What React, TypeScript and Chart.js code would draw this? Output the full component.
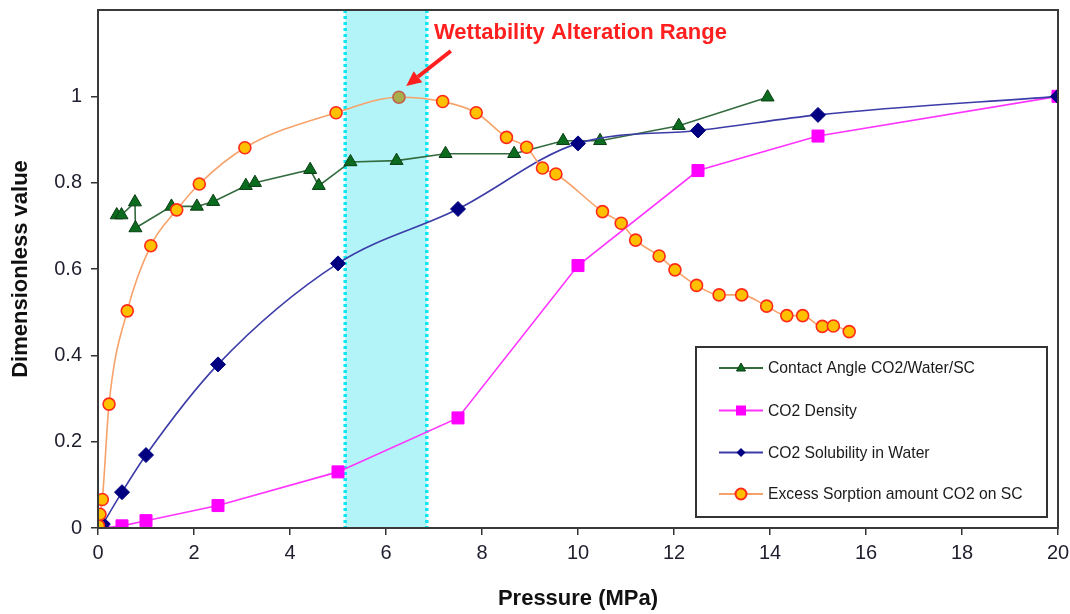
import React, { useEffect, useRef } from 'react';
import { Chart, registerables } from 'chart.js';

Chart.register(...registerables);

// ---------- data ----------
const contactAngleX = [0.39, 0.49, 0.77, 0.78, 1.53, 2.06, 2.4, 3.08, 3.27, 4.42, 4.6, 5.26, 6.22, 7.24, 8.67, 9.69, 10.46, 12.1, 13.95];
const contactAngleY = [0.725, 0.725, 0.755, 0.695, 0.745, 0.745, 0.756, 0.793, 0.8, 0.83, 0.793, 0.848, 0.851, 0.867, 0.867, 0.897, 0.897, 0.932, 0.998];

const densityX = [0.1, 0.5, 1, 2.5, 5, 7.5, 10, 12.5, 15, 20];
const densityY = [0.0, 0.005, 0.017, 0.052, 0.13, 0.255, 0.608, 0.828, 0.908, 1.0];

const solubilityX = [0.1, 0.5, 1, 2.5, 5, 7.5, 10, 12.5, 15, 20];
const solubilityY = [0.009, 0.083, 0.169, 0.379, 0.613, 0.739, 0.891, 0.921, 0.957, 1.0];

const sorptionX = [0.01, 0.04, 0.09, 0.23, 0.61, 1.1, 1.64, 2.11, 3.06, 4.96, 6.27, 7.18, 7.88, 8.51, 8.93, 9.26, 9.54, 10.51, 10.9, 11.2, 11.69, 12.02, 12.47, 12.94, 13.41, 13.93, 14.35, 14.68, 15.09, 15.32, 15.65];
const sorptionY = [0.005, 0.032, 0.066, 0.287, 0.503, 0.654, 0.737, 0.797, 0.881, 0.962, 0.998, 0.988, 0.962, 0.905, 0.882, 0.834, 0.82, 0.733, 0.706, 0.667, 0.63, 0.598, 0.562, 0.54, 0.54, 0.514, 0.492, 0.492, 0.467, 0.468, 0.455];
const sorptionPeakIndex = 10;

const seriesNames = [
  'Contact Angle CO2/Water/SC',
  'CO2 Density',
  'CO2 Solubility in Water',
  'Excess Sorption amount CO2 on SC',
];

const xTickLabels = ['0', '2', '4', '6', '8', '10', '12', '14', '16', '18', '20'];
const yTickLabels = ['0', '0.2', '0.4', '0.6', '0.8', '1', ''];

const bandRange = [5.15, 6.85];
const annotationText = 'Wettability Alteration Range';
const annotationPos = [7.0, 1.147];
const arrowTail = [7.35, 1.105];
const arrowTip = [6.42, 1.024];

const FONT = "'Liberation Sans', Arial, Helvetica, sans-serif";

const zip = (xs: number[], ys: number[]) => xs.map((x, i) => ({ x, y: ys[i] }));

const bandPlugin = {
  id: 'band',
  beforeDatasetsDraw(chart: any) {
    const { ctx, chartArea, scales } = chart;
    const x1 = scales.x.getPixelForValue(bandRange[0]);
    const x2 = scales.x.getPixelForValue(bandRange[1]);
    ctx.save();
    ctx.fillStyle = '#B2F4F8';
    ctx.fillRect(x1, chartArea.top, x2 - x1, chartArea.bottom - chartArea.top);
    ctx.strokeStyle = '#10E6F2';
    ctx.lineWidth = 3.5;
    ctx.setLineDash([3, 3]);
    [x1, x2].forEach((x) => {
      ctx.beginPath();
      ctx.moveTo(x, chartArea.top);
      ctx.lineTo(x, chartArea.bottom);
      ctx.stroke();
    });
    ctx.restore();
  },
};

function drawMarker(ctx: CanvasRenderingContext2D, kind: string, x: number, y: number) {
  ctx.save();
  ctx.setLineDash([]);
  if (kind === 'triangle') {
    ctx.fillStyle = '#0B6B1F';
    ctx.strokeStyle = '#0A3D12';
    ctx.lineWidth = 1;
    ctx.beginPath();
    ctx.moveTo(x, y - 5);
    ctx.lineTo(x + 4.5, y + 3);
    ctx.lineTo(x - 4.5, y + 3);
    ctx.closePath();
    ctx.fill();
    ctx.stroke();
  } else if (kind === 'rect') {
    ctx.fillStyle = '#FF00FF';
    ctx.fillRect(x - 5, y - 5, 10, 10);
  } else if (kind === 'rectRot') {
    ctx.fillStyle = '#000080';
    ctx.beginPath();
    ctx.moveTo(x, y - 4.5);
    ctx.lineTo(x + 4.5, y);
    ctx.lineTo(x, y + 4.5);
    ctx.lineTo(x - 4.5, y);
    ctx.closePath();
    ctx.fill();
  } else {
    ctx.fillStyle = '#FFC000';
    ctx.strokeStyle = '#FF2A1A';
    ctx.lineWidth = 2;
    ctx.beginPath();
    ctx.arc(x, y, 5.5, 0, Math.PI * 2);
    ctx.fill();
    ctx.stroke();
  }
  ctx.restore();
}

const overlayPlugin = {
  id: 'overlay',
  afterDraw(chart: any) {
    const { ctx, chartArea, scales } = chart;
    const { left, top, right, bottom } = chartArea;
    ctx.save();
    // plot frame
    ctx.strokeStyle = '#3A3A3A';
    ctx.lineWidth = 2;
    ctx.setLineDash([]);
    ctx.strokeRect(left, top, right - left, bottom - top);

    // legend box
    const lw = 351;
    const lh = 170;
    const lx = right - 11 - lw;
    const ly = bottom - 11 - lh;
    ctx.fillStyle = '#FFFFFF';
    ctx.fillRect(lx, ly, lw, lh);
    ctx.strokeStyle = '#333333';
    ctx.lineWidth = 2;
    ctx.strokeRect(lx, ly, lw, lh);
    const lineColors = ['#336B3F', '#FF33FF', '#3C3CA8', '#F7A26A'];
    const kinds = ['triangle', 'rect', 'rectRot', 'circle'];
    const rowY = [21, 63.5, 105.5, 147];
    ctx.font = `15.7px ${FONT}`;
    ctx.textBaseline = 'middle';
    ctx.textAlign = 'left';
    seriesNames.forEach((name, i) => {
      const yy = ly + rowY[i];
      ctx.strokeStyle = lineColors[i];
      ctx.lineWidth = 2;
      ctx.beginPath();
      ctx.moveTo(lx + 23, yy);
      ctx.lineTo(lx + 67, yy);
      ctx.stroke();
      drawMarker(ctx, kinds[i], lx + 45, yy);
      ctx.fillStyle = '#1A1A1A';
      ctx.fillText(name, lx + 72, yy + 1);
    });

    // annotation text
    const tx = scales.x.getPixelForValue(annotationPos[0]);
    const ty = scales.y.getPixelForValue(annotationPos[1]);
    ctx.font = `bold 22px ${FONT}`;
    ctx.fillStyle = '#FF1F1F';
    ctx.textBaseline = 'middle';
    ctx.fillText(annotationText, tx, ty);

    // arrow
    const ax1 = scales.x.getPixelForValue(arrowTail[0]);
    const ay1 = scales.y.getPixelForValue(arrowTail[1]);
    const ax2 = scales.x.getPixelForValue(arrowTip[0]);
    const ay2 = scales.y.getPixelForValue(arrowTip[1]);
    const ang = Math.atan2(ay2 - ay1, ax2 - ax1);
    const headLen = 15;
    const headW = 7;
    const bx = ax2 - Math.cos(ang) * headLen;
    const by = ay2 - Math.sin(ang) * headLen;
    ctx.strokeStyle = '#FF1F1F';
    ctx.fillStyle = '#FF1F1F';
    ctx.lineWidth = 4;
    ctx.beginPath();
    ctx.moveTo(ax1, ay1);
    ctx.lineTo(bx, by);
    ctx.stroke();
    ctx.beginPath();
    ctx.moveTo(ax2, ay2);
    ctx.lineTo(bx + Math.sin(ang) * headW, by - Math.cos(ang) * headW);
    ctx.lineTo(bx - Math.sin(ang) * headW, by + Math.cos(ang) * headW);
    ctx.closePath();
    ctx.fill();
    ctx.restore();
  },
};

export default function App() {
  const canvasRef = useRef<HTMLCanvasElement | null>(null);

  useEffect(() => {
    if (!canvasRef.current) return;
    const chart = new Chart(canvasRef.current, {
      type: 'scatter',
      data: {
        datasets: [
          {
            label: seriesNames[0],
            data: zip(contactAngleX, contactAngleY),
            showLine: true,
            borderColor: '#336B3F',
            borderWidth: 1.6,
            pointStyle: 'triangle',
            pointRadius: 7.5,
            pointBackgroundColor: '#0B6B1F',
            pointBorderColor: '#0A3D12',
            pointBorderWidth: 1,
            tension: 0,
            order: 3,
          },
          {
            label: seriesNames[1],
            data: zip(densityX, densityY),
            showLine: true,
            borderColor: '#FF33FF',
            borderWidth: 1.6,
            pointStyle: 'rect',
            pointRadius: 8.5,
            pointBackgroundColor: '#FF00FF',
            pointBorderColor: '#FF00FF',
            pointBorderWidth: 1,
            tension: 0,
            order: 2,
          },
          {
            label: seriesNames[2],
            data: zip(solubilityX, solubilityY),
            showLine: true,
            borderColor: '#3C3CA8',
            borderWidth: 1.6,
            pointStyle: 'rectRot',
            pointRadius: 7.5,
            pointBackgroundColor: '#000080',
            pointBorderColor: '#000080',
            pointBorderWidth: 1,
            cubicInterpolationMode: 'monotone',
            order: 1,
          },
          {
            label: seriesNames[3],
            data: zip(sorptionX, sorptionY),
            showLine: true,
            borderColor: '#F7A26A',
            borderWidth: 1.6,
            pointStyle: 'circle',
            pointRadius: 6,
            pointBackgroundColor: (c: any) => (c.dataIndex === sorptionPeakIndex ? '#A8AE4A' : '#FFC000'),
            pointBorderColor: (c: any) => (c.dataIndex === sorptionPeakIndex ? '#C0604A' : '#FF2A1A'),
            pointBorderWidth: 1.6,
            cubicInterpolationMode: 'monotone',
            order: 0,
          },
        ],
      },
      options: {
        responsive: true,
        maintainAspectRatio: false,
        animation: false,
        events: [],
        layout: { padding: { left: 0, top: 10, right: 12, bottom: 0 } },
        plugins: {
          legend: { display: false },
          tooltip: { enabled: false },
        },
        scales: {
          x: {
            type: 'linear',
            min: 0,
            max: 20,
            ticks: {
              stepSize: 2,
              color: '#1E1E2E',
              padding: 6,
              font: { family: FONT, size: 20 },
              callback: (_v: any, i: number) => xTickLabels[i],
            },
            grid: {
              display: true,
              drawOnChartArea: false,
              drawTicks: true,
              tickLength: 7,
              color: '#333333',
              lineWidth: 1.5,
            },
            border: { display: false },
            title: {
              display: true,
              text: 'Pressure (MPa)',
              color: '#111111',
              font: { family: FONT, size: 22, weight: 'bold' },
              padding: { top: 0, bottom: 2 },
            },
            afterFit: (s: any) => {
              s.height = 86;
              s.paddingLeft = 0;
              s.paddingRight = 0;
            },
          },
          y: {
            type: 'linear',
            min: 0,
            max: 1.2,
            ticks: {
              stepSize: 0.2,
              color: '#1E1E2E',
              padding: 9,
              font: { family: FONT, size: 20 },
              callback: (_v: any, i: number) => yTickLabels[i],
            },
            grid: {
              display: true,
              drawOnChartArea: false,
              drawTicks: true,
              tickLength: 7,
              color: (c: any) => (c.index === yTickLabels.length - 1 ? 'rgba(0,0,0,0)' : '#333333'),
              lineWidth: 1.5,
            },
            border: { display: false },
            title: {
              display: true,
              text: 'Dimensionless value',
              color: '#111111',
              font: { family: FONT, size: 22, weight: 'bold' },
              padding: { top: 8, bottom: 0 },
            },
            afterFit: (s: any) => {
              s.width = 98;
              s.paddingTop = 0;
              s.paddingBottom = 0;
            },
          },
        },
      } as any,
      plugins: [bandPlugin, overlayPlugin],
    });
    return () => chart.destroy();
  }, []);

  return (
    <div style={{ position: 'absolute', left: 0, top: 0, width: 1070, height: 614, background: '#FFFFFF' }}>
      <canvas ref={canvasRef} />
    </div>
  );
}
